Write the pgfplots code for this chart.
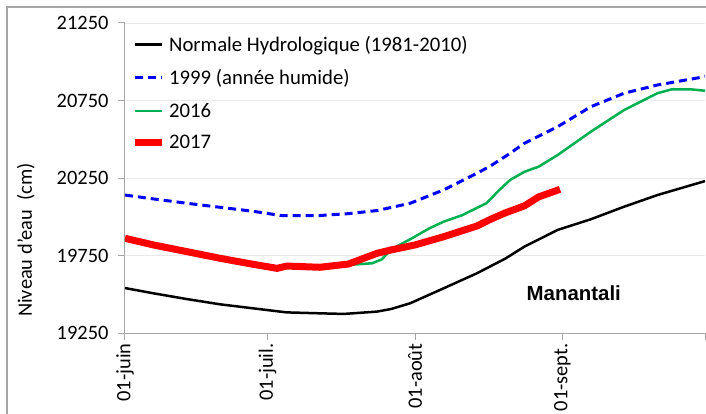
\documentclass[border=0pt]{standalone}
\usepackage{pgfplots}
\pgfplotsset{compat=1.18}
\usepackage{fontspec}
\setmainfont{Carlito}
\newfontfamily\arialfont{Liberation Sans}
\definecolor{exgreen}{HTML}{00B050}
\definecolor{framegray}{HTML}{A6A6A6}
\begin{document}
\begin{tikzpicture}
\clip (-125bp,-81bp) rectangle (581bp,333bp);
\begin{pgfinterruptboundingbox}
\begin{axis}[
  at={(0,0)}, anchor=south west,
  scale only axis, width=580bp, height=310bp,
  xmin=0, xmax=122, ymin=19250, ymax=21250,
  xtick={0,30,61,92,122},
  xticklabels={01-juin,01-juil.,01-août,01-sept.,},
  ytick={19250,19750,20250,20750,21250},
  scaled y ticks=false,
  yticklabel={\pgfmathprintnumber[fixed,precision=0,1000 sep={},assume math mode=true]{\tick}},
  axis x line*=bottom, axis y line*=left,
  axis line style={draw=framegray, line width=1bp},
  tick style={draw=framegray, line width=1bp},
  major tick length=7bp, tick align=outside,
  ymajorgrids, grid style={draw=gray!18, line width=0.8bp},
  yticklabel style={font=\fontsize{20.5}{24}\selectfont, xshift=-6bp},
  xticklabel style={font=\fontsize{20.5}{24}\selectfont, rotate=90, anchor=east, yshift=0bp},
  ylabel={Niveau d'eau\ \ (cm)},
  ylabel style={font=\fontsize{20.5}{24}\selectfont, at={(axis description cs:-0.171,0.30)}, anchor=center, rotate=0},
  legend cell align=left,
  legend style={at={(axis description cs:0,1)}, anchor=north west, draw=none, fill=none,
    font=\fontsize{20.8}{24}\selectfont, row sep=12.8bp, xshift=3bp, yshift=-9bp,
    nodes={inner xsep=4bp}},
  legend image code/.code={\draw[#1] (0bp,0bp) -- (27bp,0bp);},
]
\addplot[black, line width=2.5bp] coordinates {
(0,19540) (6,19506) (13,19469) (20,19435) (27,19409) (34,19383) (41,19377) (46,19373)
(53,19388) (56,19405) (60,19442) (67,19538) (74,19635) (80,19730) (84,19807) (91,19915)
(98,19984) (105,20065) (112,20140) (122,20230)};
\addlegendentry{Normale Hydrologique (1981-2010)}
\addplot[blue, line width=3bp, dash pattern=on 8bp off 5bp] coordinates {
(0,20140) (6,20115) (13,20087) (20,20061) (27,20035) (33,20007) (41,20008) (47,20020)
(53,20040) (60,20087) (67,20173) (74,20280) (77,20330) (81,20409) (84,20474) (91,20581)
(98,20710) (105,20797) (112,20850) (122,20904)};
\addlegendentry{1999 (année humide)}
\addplot[exgreen, line width=2.5bp] coordinates {
(0,19861) (6,19818) (13,19775) (20,19732) (27,19693) (32,19667) (34,19682) (41,19674)
(47,19689) (52,19700) (54,19725) (56,19790) (60,19855) (64,19925) (67,19968) (71,20011)
(76,20087) (79,20180) (81,20237) (84,20290) (87,20323) (91,20398) (98,20549) (105,20689)
(112,20797) (115,20822) (119,20822) (122,20813)};
\addlegendentry{2016}
\addplot[red, line width=7bp] coordinates {
(0,19861) (6,19818) (13,19775) (20,19732) (27,19693) (32,19667) (34,19682) (41,19674)
(47,19695) (53,19764) (56,19786) (61,19818) (67,19871) (74,19940) (77,19985) (80,20025)
(84,20070) (87,20128) (91.5,20177)};
\addlegendentry{2017}
\node[font=\arialfont\bfseries\fontsize{20.5}{24}\selectfont] at (axis cs:94.4,19508) {Manantali};
\end{axis}
\draw[framegray, line width=1.2bp] (-118bp,-120bp) -- (-118bp,326bp) -- (600bp,326bp);
\end{pgfinterruptboundingbox}
\end{tikzpicture}
\end{document}
